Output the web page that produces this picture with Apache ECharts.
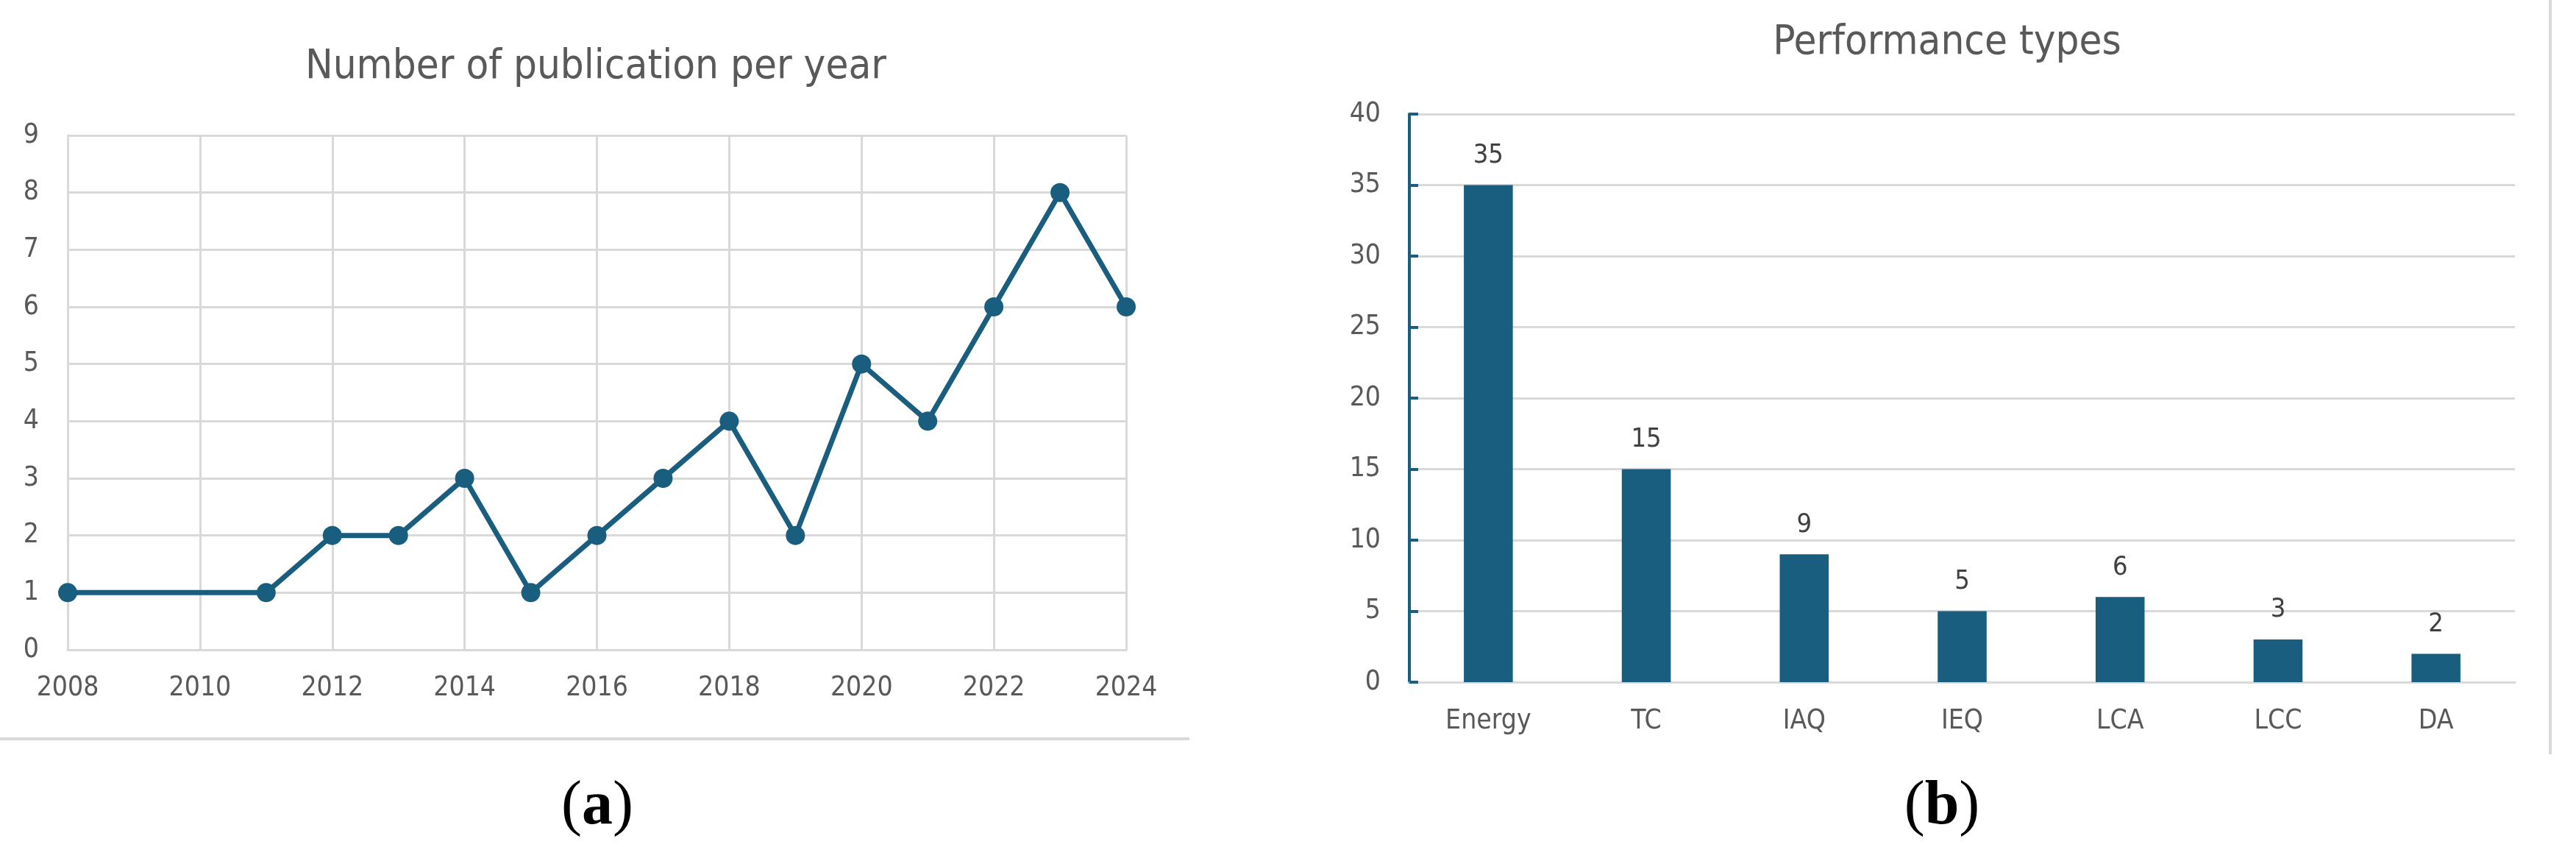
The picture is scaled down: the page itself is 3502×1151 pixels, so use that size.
<!DOCTYPE html>
<html>
<head>
<meta charset="utf-8">
<script src="https://cdn.jsdelivr.net/npm/echarts@6/dist/echarts.min.js"></script>
<style>
html,body{margin:0;padding:0;background:#fff;}
#c{width:3502px;height:1151px;}
</style>
</head>
<body>
<div id="c"></div>
<script>
// ---- Data ----
const years = [2008, 2011, 2012, 2013, 2014, 2015, 2016, 2017, 2018, 2019, 2020, 2021, 2022, 2023, 2024];
const publications = [1, 1, 2, 2, 3, 1, 2, 3, 4, 2, 5, 4, 6, 8, 6];
const perfTypes = ['Energy', 'TC', 'IAQ', 'IEQ', 'LCA', 'LCC', 'DA'];
const perfCounts = [35, 15, 9, 5, 6, 3, 2];
const titleA = 'Number of publication per year';
const titleB = 'Performance types';

const FONT = '"Liberation Sans Narrow", "DejaVu Sans Condensed", "Liberation Sans", sans-serif';
const BLUE = '#195e7f';
const GRID = '#d9d9d9';
const LABEL = '#595959';

const chart = echarts.init(document.getElementById('c'), null, {renderer: 'canvas'});
chart.setOption({
  backgroundColor: '#fff',
  animation: false,
  textStyle: {fontFamily: FONT},
  grid: [
    {left: 92, top: 184, width: 1439, height: 699, containLabel: false},
    {left: 1916, top: 155, width: 1503, height: 772, containLabel: false}
  ],
  xAxis: [
    {
      type: 'value', gridIndex: 0, min: 2008, max: 2024, interval: 2,
      axisLine: {show: true, lineStyle: {color: GRID, width: 3}},
      axisTick: {show: false},
      splitLine: {show: true, lineStyle: {color: GRID, width: 3}},
      axisLabel: {color: LABEL, fontSize: 37, margin: 34, fontFamily: FONT, showMinLabel: true, showMaxLabel: true,
        formatter: v => String(v)}
    },
    {
      type: 'category', gridIndex: 1, data: perfTypes,
      axisLine: {show: true, lineStyle: {color: GRID, width: 3}},
      axisTick: {show: false},
      splitLine: {show: false},
      axisLabel: {color: LABEL, fontSize: 37, margin: 35, fontFamily: FONT}
    }
  ],
  yAxis: [
    {
      type: 'value', gridIndex: 0, min: 0, max: 9, interval: 1,
      axisLine: {show: true, lineStyle: {color: GRID, width: 3}},
      axisTick: {show: false},
      splitLine: {show: true, lineStyle: {color: GRID, width: 3}},
      axisLabel: {color: LABEL, fontSize: 37, margin: 39, fontFamily: FONT}
    },
    {
      type: 'value', gridIndex: 1, min: 0, max: 40, interval: 5,
      axisLine: {show: true, lineStyle: {color: BLUE, width: 4}},
      axisTick: {show: true, inside: true, length: 12, lineStyle: {color: BLUE, width: 4}},
      splitLine: {show: true, lineStyle: {color: GRID, width: 3}},
      axisLabel: {color: LABEL, fontSize: 37, margin: 39, fontFamily: FONT}
    }
  ],
  series: [
    {
      type: 'line', xAxisIndex: 0, yAxisIndex: 0,
      data: years.map((y, i) => [y, publications[i]]),
      symbol: 'circle', symbolSize: 26,
      lineStyle: {color: BLUE, width: 7},
      itemStyle: {color: BLUE},
      z: 5
    },
    {
      type: 'bar', xAxisIndex: 1, yAxisIndex: 1,
      data: perfCounts, barWidth: '31%',
      itemStyle: {color: BLUE},
      label: {show: true, position: 'top', distance: 22, color: '#404040', fontSize: 36, fontFamily: FONT}
    }
  ],
  graphic: [
    {type: 'text', x: 810, y: 91, style: {text: titleA, font: '56px ' + FONT, fill: LABEL, textAlign: 'center', textVerticalAlign: 'middle'}},
    {type: 'text', x: 2647, y: 58, style: {text: titleB, font: '56px ' + FONT, fill: LABEL, textAlign: 'center', textVerticalAlign: 'middle'}},
    {type: 'line', shape: {x1: 0, y1: 1004, x2: 1617, y2: 1004}, style: {stroke: GRID, lineWidth: 4}},
    {type: 'line', shape: {x1: 3467, y1: 0, x2: 3467, y2: 1025}, style: {stroke: GRID, lineWidth: 4}},
    {type: 'text', x: 812, y: 1097, style: {
      text: '{p|(}{b|a}{p|)}', textAlign: 'center', textVerticalAlign: 'middle',
      rich: {p: {fontFamily: '"Liberation Serif", serif', fontSize: 84, fill: '#000'}, b: {fontFamily: '"Liberation Serif", serif', fontWeight: 'bold', fontSize: 84, fill: '#000'}}
    }},
    {type: 'text', x: 2640, y: 1097, style: {
      text: '{p|(}{b|b}{p|)}', textAlign: 'center', textVerticalAlign: 'middle',
      rich: {p: {fontFamily: '"Liberation Serif", serif', fontSize: 84, fill: '#000'}, b: {fontFamily: '"Liberation Serif", serif', fontWeight: 'bold', fontSize: 84, fill: '#000'}}
    }}
  ]
});
</script>
</body>
</html>
